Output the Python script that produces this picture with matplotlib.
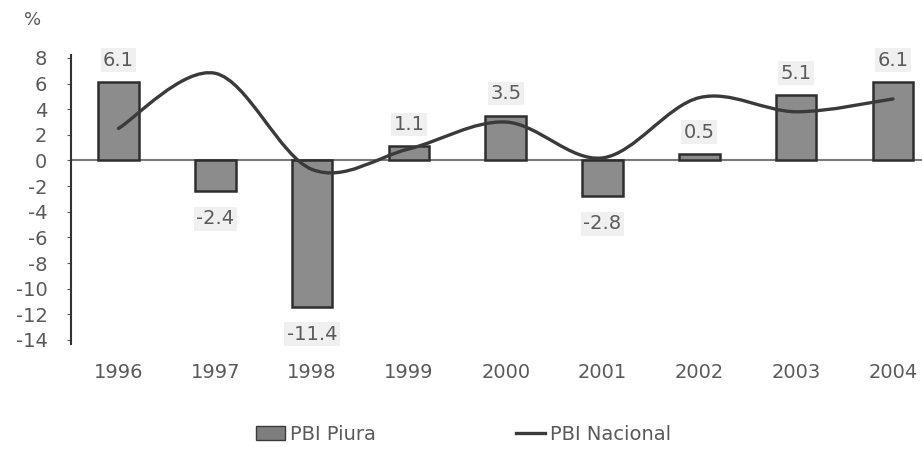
import matplotlib
matplotlib.use("Agg")
import matplotlib.pyplot as plt
from matplotlib.path import Path
from matplotlib.patches import PathPatch
from matplotlib.lines import Line2D
from matplotlib.patches import Patch
import numpy as np

plt.rcParams["axes.unicode_minus"] = False

years = ["1996", "1997", "1998", "1999", "2000", "2001", "2002", "2003", "2004"]
pbi_piura = [6.1, -2.4, -11.4, 1.1, 3.5, -2.8, 0.5, 5.1, 6.1]
pbi_nacional = [2.5, 6.8, -0.7, 0.9, 3.0, 0.2, 4.9, 3.8, 4.8]
yticks = list(range(-14, 9, 2))

TXT = "#5a5a5a"
FS = 14
fig = plt.figure(figsize=(9.22, 4.5), dpi=100)
ax = fig.add_axes([0.077, 0.236, 0.923, 0.641])

x = np.arange(len(years))
ax.bar(x, pbi_piura, width=0.42, color="#8c8c8c", edgecolor="#2e2e2e",
       linewidth=1.8, zorder=2)

# smoothed line (Bezier through the data points)
pts = np.column_stack([x, pbi_nacional]).astype(float)
verts = [tuple(pts[0])]
codes = [Path.MOVETO]
n = len(pts)
for i in range(n - 1):
    p0 = pts[i - 1] if i > 0 else pts[i]
    p1 = pts[i]
    p2 = pts[i + 1]
    p3 = pts[i + 2] if i + 2 < n else pts[i + 1]
    c1 = p1 + (p2 - p0) / 6.0
    c2 = p2 - (p3 - p1) / 6.0
    verts += [tuple(c1), tuple(c2), tuple(p2)]
    codes += [Path.CURVE4] * 3
ax.add_patch(PathPatch(Path(verts, codes), facecolor="none", edgecolor="#3a3a3a",
                       linewidth=2.4, zorder=3, capstyle="round"))

ax.axhline(0, color="#7a7a7a", linewidth=1.5, zorder=1)

for xi, v in zip(x, pbi_piura):
    off = 9 if v >= 0 else -13
    ax.annotate(f"{v:.1f}", (xi, v), xytext=(0, off), textcoords="offset points",
                ha="center", va="bottom" if v >= 0 else "top", fontsize=FS,
                color=TXT, zorder=4,
                bbox=dict(boxstyle="square,pad=0.12", facecolor="#f0f0f0",
                          edgecolor="none"))

ax.set_xlim(-0.49, 8.3)
ax.set_ylim(-14.3, 8.2)
ax.set_yticks(yticks)
ax.set_yticklabels([str(t) for t in yticks])
ax.set_xticks(x)
ax.set_xticklabels(years)
ax.tick_params(axis="y", labelsize=FS, labelcolor=TXT, color="#555555",
               length=3, pad=14)
ax.tick_params(axis="x", labelsize=FS, labelcolor=TXT, length=0, pad=14)
for s in ["top", "right", "bottom"]:
    ax.spines[s].set_visible(False)
ax.spines["left"].set_color("#333333")
ax.spines["left"].set_linewidth(1.5)

fig.text(0.035, 0.955, "%", fontsize=13, color=TXT, ha="center", va="center")

handles = [Patch(facecolor="#7e7e7e", edgecolor="#3a3a3a", label="PBI Piura"),
           Line2D([], [], color="#3a3a3a", linewidth=2.4, label="PBI Nacional")]
fig.legend(handles=handles, loc="center", bbox_to_anchor=(0.503, 0.035), ncol=2,
           frameon=False, fontsize=FS, labelcolor=TXT, handlelength=1.5,
           handletextpad=0.25, columnspacing=7.2)

fig.savefig("out.png", dpi=100)
